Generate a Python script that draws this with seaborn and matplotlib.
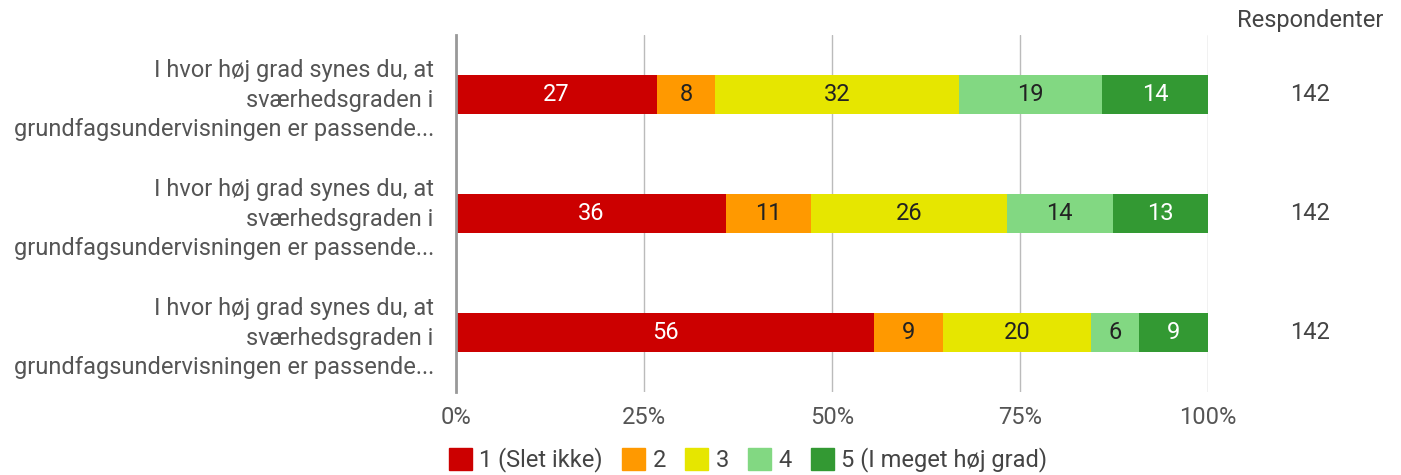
import matplotlib
matplotlib.use("Agg")
import matplotlib.pyplot as plt
from matplotlib.patches import Patch
import seaborn as sns
import pandas as pd

# Data (answer counts out of 142 respondents)
question = "I hvor høj grad synes du, at\nsværhedsgraden i\ngrundfagsundervisningen er passende..."
rows = ["q1", "q2", "q3"]
levels = ["1 (Slet ikke)", "2", "3", "4", "5 (I meget høj grad)"]
counts = {
    "1 (Slet ikke)": [38, 51, 79],
    "2": [11, 16, 13],
    "3": [46, 37, 28],
    "4": [27, 20, 9],
    "5 (I meget høj grad)": [20, 18, 13],
}
respondents = [142, 142, 142]

colors = ["#cc0000", "#ff9900", "#e6e600", "#82d882", "#339933"]
text_colors = ["white", "#222222", "#222222", "#222222", "white"]
FS = 17

df = pd.DataFrame(counts, index=rows)
pct = df.div(df.sum(axis=1), axis=0) * 100
cum = pct.cumsum(axis=1)

sns.set_theme(style="white")
plt.rcParams["font.family"] = ["Roboto", "DejaVu Sans"]

fig = plt.figure(figsize=(14.01, 4.75), dpi=100)
ax = fig.add_axes([456 / 1401, 83 / 475, 752 / 1401, 357 / 475])

# draw cumulative bars from the top level down so each segment shows
for i in reversed(range(len(levels))):
    d = pd.DataFrame({"row": rows, "val": cum[levels[i]].values})
    sns.barplot(data=d, x="val", y="row", orient="h", color=colors[i],
                width=0.32, saturation=1, ax=ax, linewidth=0)

for r, row in enumerate(rows):
    for i, lvl in enumerate(levels):
        v = pct.loc[row, lvl]
        mid = cum.loc[row, lvl] - v / 2
        ax.text(mid, r, f"{v:.0f}", ha="center", va="center",
                fontsize=FS, color=text_colors[i])
    ax.text(1.136, r, str(respondents[r]), transform=ax.get_yaxis_transform(),
            ha="center", va="center", fontsize=FS, color="#444444")

ax.text(1.136, 1.042, "Respondenter", transform=ax.transAxes,
        ha="center", va="center", fontsize=FS, color="#444444")

ax.set_xlim(0, 100)
ax.set_ylim(2.5, -0.5)
ax.set_xticks([0, 25, 50, 75, 100])
ax.set_xticklabels(["0%", "25%", "50%", "75%", "100%"])
ax.set_yticks(range(len(rows)))
ax.set_yticklabels([question] * len(rows), ha="right", multialignment="right",
                   linespacing=1.35)
ax.set_xlabel("")
ax.set_ylabel("")
ax.xaxis.grid(True, color="#bbbbbb", linewidth=1)
ax.set_axisbelow(True)
for s in ["top", "right", "bottom"]:
    ax.spines[s].set_visible(False)
ax.spines["left"].set_color("#999999")
ax.spines["left"].set_linewidth(2)
ax.tick_params(axis="both", length=0, labelsize=FS, labelcolor="#555555")
ax.tick_params(axis="x", pad=10)
ax.tick_params(axis="y", pad=16)

handles = [Patch(facecolor=c, edgecolor=c, label=l) for c, l in zip(colors, levels)]
fig.legend(handles=handles, loc="center", bbox_to_anchor=(748 / 1401, 1 - 460 / 475),
           ncol=5, frameon=False, fontsize=FS, handlelength=1.0, handleheight=1.1,
           handletextpad=0.3, columnspacing=0.8, labelcolor="#444444")

fig.savefig("out.png", dpi=100)
